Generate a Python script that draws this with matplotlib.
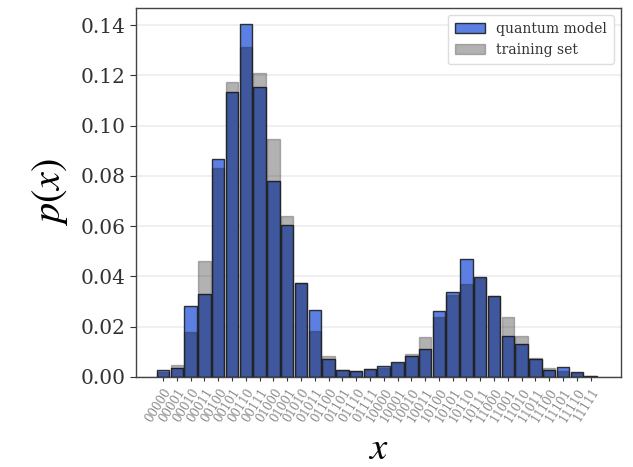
import numpy as np
import matplotlib.pyplot as plt

# 5-bit basis states
labels = [format(i, '05b') for i in range(32)]

quantum_model = [0.0028, 0.0037, 0.0282, 0.0329, 0.0866, 0.1135, 0.1403, 0.1155,
                 0.0780, 0.0603, 0.0375, 0.0267, 0.0070, 0.0028, 0.0025, 0.0032,
                 0.0045, 0.0061, 0.0083, 0.0111, 0.0264, 0.0339, 0.0468, 0.0399,
                 0.0323, 0.0163, 0.0131, 0.0072, 0.0028, 0.0041, 0.0021, 0.0005]
training_set = [0.0020, 0.0046, 0.0180, 0.0461, 0.0830, 0.1175, 0.1314, 0.1210,
                0.0945, 0.0640, 0.0375, 0.0183, 0.0083, 0.0028, 0.0025, 0.0030,
                0.0035, 0.0055, 0.0091, 0.0158, 0.0240, 0.0326, 0.0370, 0.0395,
                0.0323, 0.0237, 0.0163, 0.0075, 0.0035, 0.0024, 0.0015, 0.0004]

plt.rcParams['font.family'] = 'DejaVu Serif'
plt.rcParams['mathtext.fontset'] = 'stix'

fig = plt.figure(figsize=(6.33, 4.67), dpi=100)
ax = fig.add_axes([0.215, 0.193, 0.766, 0.79])

x = np.arange(len(labels))
ax.bar(x, quantum_model, width=0.9, color='#4d74e0', edgecolor='#222222',
       linewidth=1.0, alpha=0.92, label='quantum model', zorder=2)
ax.bar(x, training_set, width=0.9, color='black', edgecolor='#222222',
       linewidth=1.0, alpha=0.30, label='training set', zorder=3)

ax.set_xlim(-1.95, 33.2)
ax.set_ylim(0, 0.1468)
ax.set_yticks(np.arange(0, 0.141, 0.02))
ax.set_yticklabels(['%.2f' % v for v in np.arange(0, 0.141, 0.02)])
ax.set_xticks(x)
ax.set_xticklabels(labels, rotation=58, ha='right', rotation_mode='anchor',
                   fontsize=8.5)
ax.tick_params(axis='y', labelsize=14.5, colors='#333333', length=4)
ax.tick_params(axis='x', length=3, colors='#333333')
for lbl in ax.get_xticklabels():
    lbl.set_color('#8a8a8a')

ax.grid(axis='y', color='#eeeeee', linewidth=1.2, zorder=0)
ax.set_axisbelow(True)
for s in ax.spines.values():
    s.set_color('#444444')
    s.set_linewidth(1.0)

ax.set_ylabel('$p(x)$', fontsize=29, labelpad=8)
ax.set_xlabel('$x$', fontsize=28, labelpad=4)

leg = ax.legend(loc='upper right', fontsize=10, frameon=True, fancybox=True,
                framealpha=1.0, edgecolor='#dddddd', handlelength=2.2,
                borderpad=0.5)
for t in leg.get_texts():
    t.set_color('#333333')

fig.savefig('out.png', dpi=100)
